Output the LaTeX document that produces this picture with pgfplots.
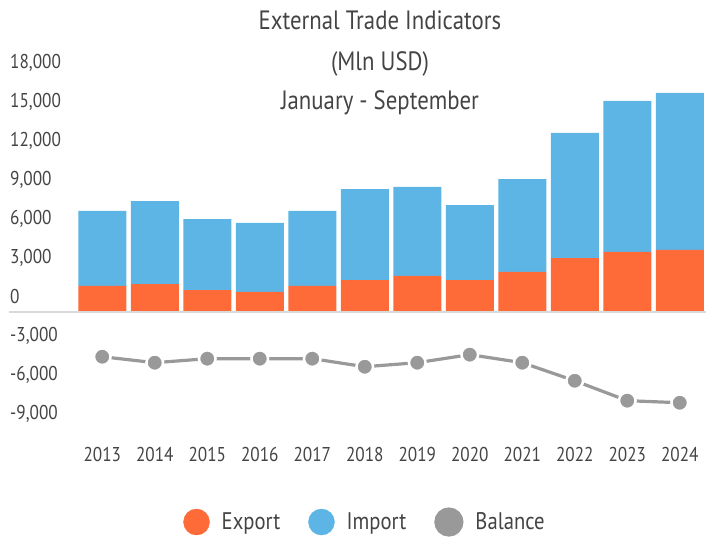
\documentclass[border=0pt]{standalone}
\usepackage{pgfplots}
\pgfplotsset{compat=1.18}
\usepackage{fontspec}
\setmainfont{PT Sans}[FakeStretch=0.86]
\definecolor{cExp}{HTML}{FF6A39}
\definecolor{cImp}{HTML}{5DB5E5}
\definecolor{cBal}{HTML}{999999}
\definecolor{cTxt}{HTML}{444444}
\definecolor{cZero}{HTML}{D9D9D9}

\pgfplotsset{base/.style={
  scale only axis, width=630bp, height=361.4bp,
  xmin=-0.5, xmax=11.5, ymin=-9800, ymax=18000,
  clip=false,
}}

\begin{document}
\begin{tikzpicture}
\begin{axis}[base, at={(76bp,99.6bp)}, anchor=south west,
  ybar stacked, bar width=48bp,
  axis line style={draw=none}, tick style={draw=none},
  scaled y ticks=false,
  xtick={0,...,11},
  xticklabels={\mbox{2013},\mbox{2014},\mbox{2015},\mbox{2016},\mbox{2017},\mbox{2018},
    \mbox{2019},\mbox{2020},\mbox{2021},\mbox{2022},\mbox{2023},\mbox{2024}},
  ytick={-9000,-6000,-3000,0,3000,6000,9000,12000,15000,18000},
  yticklabels={\mbox{-9,000},\mbox{-6,000},\mbox{-3,000},\mbox{0},\mbox{3,000},
    \mbox{6,000},\mbox{9,000},\mbox{12,000},\mbox{15,000},\mbox{18,000}},
  yticklabel style={anchor=west, inner sep=0pt, xshift=-66bp, yshift=15bp},
  xticklabel style={yshift=-4bp},
  tick label style={font=\fontsize{20bp}{24bp}\selectfont, text=cTxt},
]
\draw[cZero, line width=2.2bp] (axis cs:-1.78,0) -- (axis cs:11.5,0);
\addplot[fill=cExp, draw=none] coordinates {
  (0,2000) (1,2150) (2,1690) (3,1540) (4,2000) (5,2460)
  (6,2770) (7,2460) (8,3080) (9,4150) (10,4620) (11,4770)};
\addplot[fill=cImp, draw=none] coordinates {
  (0,5770) (1,6380) (2,5460) (3,5310) (4,5770) (5,7000)
  (6,6850) (7,5770) (8,7150) (9,9620) (10,11620) (11,12080)};
\end{axis}

\begin{axis}[base, at={(76bp,99.6bp)}, anchor=south west, hide axis,
  legend columns=3,
  legend style={at={(0.4587,-0.2286)}, anchor=center, draw=none,
    font=\fontsize{24bp}{28bp}\selectfont, text=cTxt,
    /tikz/every odd column/.append style={column sep=10bp},
    /tikz/every even column/.append style={column sep=26bp}},
]
\addlegendimage{legend image code/.code={\fill[cExp] (13bp,0) circle (13bp);}}
\addlegendentry{Export}
\addlegendimage{legend image code/.code={\fill[cImp] (13bp,0) circle (13bp);}}
\addlegendentry{Import}
\addplot[cBal, line width=3.2bp, mark=*,
  mark options={fill=cBal, draw=white, line width=2.5bp}, mark size=8.3bp,
  legend image code/.code={\fill[cBal] (13bp,0) circle (13bp);}] coordinates {
  (0,-3440) (1,-3900) (2,-3590) (3,-3590) (4,-3590) (5,-4210)
  (6,-3900) (7,-3280) (8,-3900) (9,-5290) (10,-6820) (11,-6980)};
\addlegendentry{Balance}
\node[font=\fontsize{26.5bp}{30bp}\selectfont, text=cTxt] at (rel axis cs:0.4825,1.1605) {External Trade Indicators};
\node[font=\fontsize{26.5bp}{30bp}\selectfont, text=cTxt] at (rel axis cs:0.4825,1.0387) {(Mln USD)};
\node[font=\fontsize{26.5bp}{30bp}\selectfont, text=cTxt] at (rel axis cs:0.4825,0.9308) {January - September};
\end{axis}
\pgfresetboundingbox
\path (0,0) rectangle (706bp,539bp);
\end{tikzpicture}
\end{document}
